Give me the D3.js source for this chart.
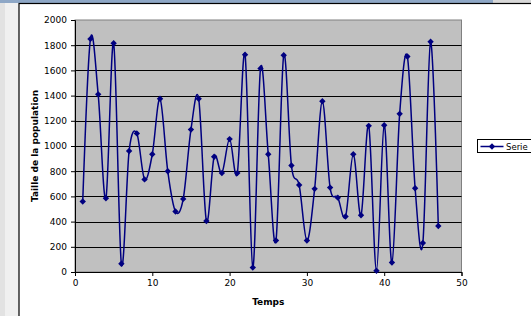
<!DOCTYPE html>
<html>
<head>
<meta charset="utf-8">
<script src="https://cdn.jsdelivr.net/npm/d3@7"></script>
<style>
  body { margin: 0; background: #fff; }
  svg text { font-family: "DejaVu Sans", Verdana, sans-serif; fill: #000; }
</style>
</head>
<body>
<div id="chart"></div>
<script>
let svgWidth = 531;
let svgHeight = 316;

// Data
let temps = d3.range(1, 48);
let population = [560, 1850, 1410, 585, 1815, 65, 960, 1100, 735, 935,
  1375, 800, 480, 580, 1130, 1375, 405, 915, 785, 1055,
  785, 1725, 35, 1615, 935, 250, 1720, 845, 690, 250,
  660, 1355, 670, 590, 440, 935, 450, 1160, 10, 1165,
  75, 1255, 1710, 665, 230, 1828, 365];
let xTicks = [0, 10, 20, 30, 40, 50];
let yTicks = d3.range(0, 2001, 200);
let seriesName = "Serie";

let data = temps.map((t, i) => ({ t: t, v: population[i] }));

let plot = { left: 75, top: 20, right: 461.5, bottom: 272 };

let svg = d3.select("#chart").append("svg")
  .attr("width", svgWidth).attr("height", svgHeight);

// window frame around the chart
svg.append("rect").attr("width", svgWidth).attr("height", svgHeight).attr("fill", "#f0f0f0");
svg.append("rect").attr("width", 5).attr("height", svgHeight).attr("fill", "#e2e2e2");
svg.append("rect").attr("width", svgWidth).attr("height", 3).attr("fill", "#d8d8d8");
svg.append("rect").attr("width", 493).attr("height", 3).attr("fill", "#8ea7c6");
svg.append("rect").attr("x", 19).attr("y", 3.5).attr("width", svgWidth).attr("height", svgHeight)
  .attr("fill", "#fff").attr("stroke", "#000").attr("stroke-width", 1.2);

let x = d3.scaleLinear().domain([0, 50]).range([plot.left, plot.right]);
let y = d3.scaleLinear().domain([0, 2000]).range([plot.bottom, plot.top]);

// plot area
svg.append("rect")
  .attr("x", plot.left).attr("y", plot.top)
  .attr("width", plot.right - plot.left).attr("height", plot.bottom - plot.top)
  .attr("fill", "#c0c0c0").attr("stroke", "#808080");

svg.append("g").selectAll("line")
  .data(yTicks.filter(d => d > 0 && d < 2000))
  .enter().append("line")
  .attr("x1", plot.left).attr("x2", plot.right)
  .attr("y1", d => Math.round(y(d)) + 0.5).attr("y2", d => Math.round(y(d)) + 0.5)
  .attr("stroke", "#000");

// axes
let xAxis = svg.append("g")
  .attr("transform", `translate(0, ${plot.bottom})`)
  .call(d3.axisBottom(x).tickValues(xTicks).tickSize(4).tickPadding(4).tickFormat(d3.format("d")));
let yAxis = svg.append("g")
  .attr("transform", `translate(${plot.left}, 0)`)
  .call(d3.axisLeft(y).tickValues(yTicks).tickSize(4).tickPadding(4).tickFormat(d3.format("d")));

[xAxis, yAxis].forEach(a => {
  a.select(".domain").attr("stroke", "#000");
  a.selectAll(".tick line").attr("stroke", "#000");
  a.selectAll("text").attr("font-size", 9).attr("font-family", "DejaVu Sans, Verdana, sans-serif");
});

svg.append("text")
  .attr("x", (plot.left + plot.right) / 2).attr("y", 305)
  .attr("text-anchor", "middle").attr("font-size", 9).attr("font-weight", "bold")
  .text("Temps");

svg.append("text")
  .attr("transform", `translate(38, ${(plot.top + plot.bottom) / 2}) rotate(-90)`)
  .attr("text-anchor", "middle").attr("font-size", 9).attr("font-weight", "bold")
  .text("Taille de la population");

// series
let line = d3.line()
  .x(d => x(d.t))
  .y(d => y(d.v))
  .curve(d3.curveCardinal.tension(0));

svg.append("path")
  .datum(data)
  .attr("d", line)
  .attr("fill", "none").attr("stroke", "#000080").attr("stroke-width", 1.5);

let diamond = d3.symbol().type(d3.symbolDiamond2).size(26);

svg.append("g").selectAll("path")
  .data(data)
  .enter().append("path")
  .attr("d", diamond)
  .attr("transform", d => `translate(${x(d.t)}, ${y(d.v)})`)
  .attr("fill", "#000080");

// legend (runs off the window edge, as in the reference)
let legend = svg.append("g").attr("transform", "translate(477.5, 139.5)");
legend.append("rect").attr("width", 80).attr("height", 13)
  .attr("fill", "#fff").attr("stroke", "#000");
legend.append("line").attr("x1", 3).attr("x2", 26).attr("y1", 7).attr("y2", 7)
  .attr("stroke", "#000080").attr("stroke-width", 1.5);
legend.append("path").attr("d", diamond).attr("transform", "translate(14.5, 7)").attr("fill", "#000080");
legend.append("text").attr("x", 28.5).attr("y", 10.5).attr("font-size", 8.5).text(seriesName);
</script>
</body>
</html>
